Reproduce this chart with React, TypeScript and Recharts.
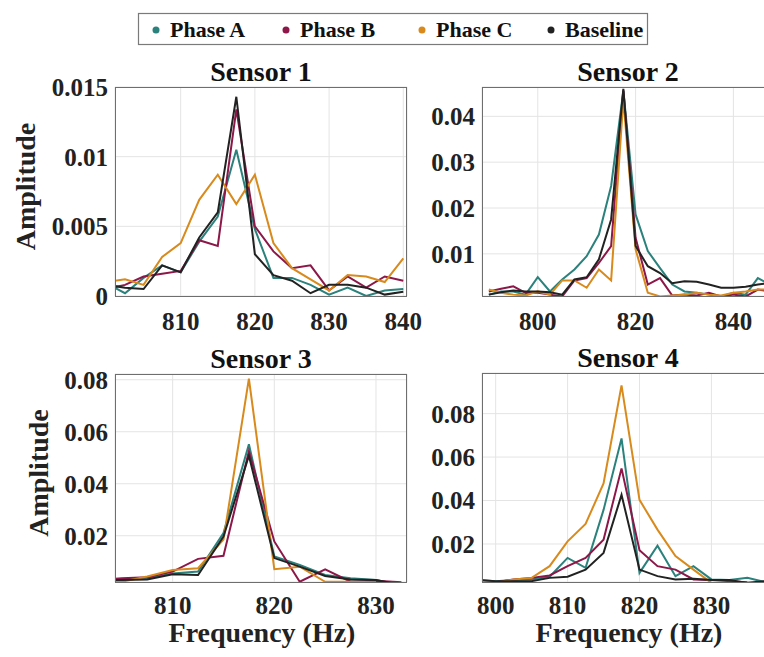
import { LineChart, Line, XAxis, YAxis, CartesianGrid } from "recharts";

const FONT = '"Liberation Serif", "Times New Roman", serif';

const COLOR_A = "#2b817c";
const COLOR_B = "#8c1748";
const COLOR_C = "#d88a1c";
const COLOR_BASE = "#222222";

const SERIES = [
  { key: "a", label: "Phase A", color: COLOR_A },
  { key: "b", label: "Phase B", color: COLOR_B },
  { key: "c", label: "Phase C", color: COLOR_C },
  { key: "base", label: "Baseline", color: COLOR_BASE },
];

// Sensor 1
const s1Freq = [800, 802.5, 805, 807.5, 810, 812.5, 815, 817.5, 820, 822.5, 825, 827.5, 830, 832.5, 835, 837.5, 840];
const s1A = [0.0009, 0.0002, 0.0013, 0.0022, 0.0017, 0.0039, 0.0057, 0.0105, 0.0048, 0.0013, 0.0013, 0.0008, 0.0001, 0.0006, 0.0, 0.0004, 0.0005];
const s1B = [0.0005, 0.0008, 0.0014, 0.0016, 0.0018, 0.004, 0.0036, 0.0134, 0.005, 0.0032, 0.002, 0.0022, 0.0004, 0.0014, 0.0006, 0.0014, 0.0011];
const s1C = [0.001, 0.0012, 0.0008, 0.0028, 0.0038, 0.0069, 0.0087, 0.0066, 0.0087, 0.0038, 0.002, 0.0012, 0.0004, 0.0015, 0.0014, 0.001, 0.0027];
const s1Base = [0.0008, 0.0006, 0.0005, 0.0022, 0.0017, 0.0042, 0.006, 0.0143, 0.003, 0.0015, 0.0011, 0.0002, 0.0008, 0.0008, 0.0006, 0.0001, 0.0003];

// Sensor 2
const s2Freq = [790, 792.5, 795, 797.5, 800, 802.5, 805, 807.5, 810, 812.5, 815, 817.5, 820, 822.5, 825, 827.5, 830, 832.5, 835, 837.5, 840, 842.5, 845, 847.5];
const s2A = [0.0011, 0.0018, 0.0018, 0.0011, 0.0049, 0.0018, 0.0044, 0.0066, 0.0095, 0.0142, 0.0248, 0.0456, 0.0186, 0.0106, 0.0069, 0.0033, 0.0018, 0.0015, 0.0011, 0.0007, 0.0015, 0.0011, 0.0047, 0.0033];
const s2B = [0.0018, 0.0024, 0.0029, 0.0015, 0.0015, 0.0011, 0.0007, 0.0042, 0.0047, 0.008, 0.0117, 0.0456, 0.0135, 0.0033, 0.0047, 0.0009, 0.0011, 0.0009, 0.0015, 0.0007, 0.0011, 0.0007, 0.0022, 0.0018];
const s2C = [0.0022, 0.0015, 0.0011, 0.0009, 0.0018, 0.0011, 0.0042, 0.0042, 0.0026, 0.0066, 0.0042, 0.0438, 0.011, 0.0015, 0.0007, 0.0009, 0.0011, 0.0015, 0.0011, 0.0009, 0.0015, 0.0018, 0.0022, 0.0022];
const s2Base = [0.0011, 0.0016, 0.002, 0.0018, 0.0018, 0.0016, 0.0011, 0.0044, 0.0049, 0.0088, 0.0175, 0.046, 0.0117, 0.0073, 0.0058, 0.0036, 0.004, 0.0039, 0.0033, 0.0026, 0.0026, 0.0028, 0.0033, 0.0036];

// Sensor 3
const s3Freq = [802.5, 805, 807.5, 810, 812.5, 815, 817.5, 820, 822.5, 825, 827.5, 830, 832.5];
const s3A = [0.003, 0.0032, 0.0036, 0.0055, 0.0062, 0.021, 0.0552, 0.012, 0.0088, 0.0049, 0.0036, 0.003, 0.001];
const s3B = [0.0032, 0.0036, 0.004, 0.0062, 0.0111, 0.0123, 0.0525, 0.0178, 0.0023, 0.0071, 0.0023, 0.0027, 0.0021];
const s3C = [0.0019, 0.0023, 0.0043, 0.0068, 0.0075, 0.0185, 0.0804, 0.0071, 0.0081, 0.0023, 0.0023, 0.0021, null];
const s3Base = [0.003, 0.003, 0.0032, 0.0052, 0.0049, 0.0197, 0.0508, 0.0114, 0.0081, 0.0045, 0.0032, 0.003, 0.001];

// Sensor 4
const s4Freq = [797.5, 800, 802.5, 805, 807.5, 810, 812.5, 815, 817.5, 820, 822.5, 825, 827.5, 830, 832.5, 835, 837.5];
const s4A = [0.0034, 0.0029, 0.0034, 0.0037, 0.0049, 0.0136, 0.009, 0.0357, 0.0686, 0.0067, 0.0192, 0.0052, 0.0098, 0.0037, 0.0034, 0.0044, 0.0024];
const s4B = [null, 0.0024, 0.0037, 0.0044, 0.0055, 0.0098, 0.0136, 0.022, 0.0548, 0.0171, 0.0098, 0.0082, 0.0037, 0.0034, 0.0029, 0.0024, null];
const s4C = [null, 0.0021, 0.0037, 0.0044, 0.0098, 0.0212, 0.0292, 0.0479, 0.093, 0.0403, 0.0266, 0.0144, 0.0082, 0.0021, 0.0018, null, null];
const s4Base = [0.0034, 0.0029, 0.0029, 0.0029, 0.0044, 0.0049, 0.0082, 0.0159, 0.0426, 0.0082, 0.0052, 0.0037, 0.004, 0.0034, 0.0034, 0.0021, 0.0029];

type Row = { f: number; a: number | null; b: number | null; c: number | null; base: number | null };

const buildRows = (
  f: number[],
  a: (number | null)[],
  b: (number | null)[],
  c: (number | null)[],
  base: (number | null)[]
): Row[] => f.map((v, i) => ({ f: v, a: a[i], b: b[i], c: c[i], base: base[i] }));

const PANELS = [
  {
    title: "Sensor 1",
    rows: buildRows(s1Freq, s1A, s1B, s1C, s1Base),
    xDomain: [801.15, 840.5],
    yDomain: [0, 0.015],
    xTicks: [810, 820, 830, 840],
    yTicks: [0, 0.005, 0.01, 0.015],
    left: 115,
    top: 87,
    height: 209,
    ylabelX: 26,
    xlabel: false,
    xTickMargin: 10,
  },
  {
    title: "Sensor 2",
    rows: buildRows(s2Freq, s2A, s2B, s2C, s2Base),
    xDomain: [788.6, 848.3],
    yDomain: [0.0008, 0.0464],
    xTicks: [800, 820, 840],
    yTicks: [0.01, 0.02, 0.03, 0.04],
    left: 482,
    top: 87,
    height: 209,
    ylabelX: 0,
    xlabel: false,
    xTickMargin: 10,
  },
  {
    title: "Sensor 3",
    rows: buildRows(s3Freq, s3A, s3B, s3C, s3Base),
    xDomain: [804.33, 833.05],
    yDomain: [0.0022, 0.0822],
    xTicks: [810, 820, 830],
    yTicks: [0.02, 0.04, 0.06, 0.08],
    left: 115,
    top: 374,
    height: 208,
    ylabelX: 39,
    xlabel: true,
    xTickMargin: 8,
  },
  {
    title: "Sensor 4",
    rows: buildRows(s4Freq, s4A, s4B, s4C, s4Base),
    xDomain: [798.1, 838.7],
    yDomain: [0.0025, 0.0987],
    xTicks: [800, 810, 820, 830],
    yTicks: [0.02, 0.04, 0.06, 0.08],
    left: 482,
    top: 373,
    height: 209,
    ylabelX: 0,
    xlabel: true,
    xTickMargin: 8,
  },
];

const PLOT_W = 292;
const Y_AXIS_W = 90;
const X_AXIS_H = 50;
const PAD_TOP = 20;
const PAD_RIGHT = 30;

const tickStyle = { fill: "#222", fontSize: 25, fontWeight: 700, fontFamily: FONT };

function Panel({ p }: { p: (typeof PANELS)[number] }) {
  return (
    <>
      <div style={{ position: "absolute", left: p.left - Y_AXIS_W, top: p.top - PAD_TOP }}>
        <LineChart
          width={Y_AXIS_W + PLOT_W + PAD_RIGHT}
          height={PAD_TOP + p.height + X_AXIS_H}
          data={p.rows}
          margin={{ top: PAD_TOP, right: PAD_RIGHT, bottom: 0, left: 0 }}
        >
          <CartesianGrid stroke="#e4e4e4" strokeWidth={1} />
          <XAxis
            dataKey="f"
            type="number"
            domain={p.xDomain}
            ticks={p.xTicks}
            allowDataOverflow
            height={X_AXIS_H}
            axisLine={false}
            tickLine={false}
            tickSize={6}
            tickMargin={p.xTickMargin}
            tick={tickStyle}
            interval={0}
          />
          <YAxis
            type="number"
            domain={p.yDomain}
            ticks={p.yTicks}
            allowDataOverflow
            width={Y_AXIS_W}
            axisLine={false}
            tickLine={false}
            tickSize={6}
            tickMargin={1}
            tick={tickStyle}
            tickFormatter={(v: number) => String(v)}
            interval={0}
          />
          {SERIES.map((s) => (
            <Line
              key={s.key}
              dataKey={s.key}
              stroke={s.color}
              strokeWidth={2}
              dot={false}
              isAnimationActive={false}
              connectNulls={false}
            />
          ))}
        </LineChart>
      </div>
      <div
        style={{
          position: "absolute",
          left: p.left,
          top: p.top,
          width: PLOT_W,
          height: p.height + 1,
          border: "1px solid #6e6e6e",
          boxSizing: "border-box",
          pointerEvents: "none",
        }}
      />
    </>
  );
}

export default function App() {
  return (
    <div
      style={{
        position: "fixed",
        left: 0,
        top: 0,
        width: 764,
        height: 657,
        overflow: "hidden",
        background: "#fff",
      }}
    >
      {PANELS.map((p) => (
        <Panel key={p.title} p={p} />
      ))}
      <svg
        width={764}
        height={657}
        style={{ position: "absolute", left: 0, top: 0, pointerEvents: "none" }}
        fontFamily={FONT}
        fontWeight={700}
      >
        {/* legend */}
        <rect x={138.5} y={13.5} width={509} height={31} fill="#fff" stroke="#7a7a7a" strokeWidth={1.2} />
        {SERIES.map((s, i) => {
          const dotX = [156, 286, 422, 551][i];
          return (
            <g key={s.key}>
              <circle cx={dotX} cy={30} r={3.5} fill={s.color} />
              <text x={dotX + 14} y={37} fontSize={22} fill="#111">
                {s.label}
              </text>
            </g>
          );
        })}
        {/* titles + labels */}
        {PANELS.map((p) => (
          <g key={p.title}>
            <text x={p.left + PLOT_W / 2} y={p.top - 6} fontSize={28} textAnchor="middle" fill="#111">
              {p.title}
            </text>
            {p.ylabelX > 0 && (
              <text
                x={0}
                y={0}
                fontSize={28}
                textAnchor="middle"
                fill="#222"
                transform={`translate(${p.ylabelX + 9}, ${p.top + p.height / 2 - 5}) rotate(-90)`}
              >
                Amplitude
              </text>
            )}
            {p.xlabel && (
              <text x={p.left + PLOT_W / 2 + 1} y={642} fontSize={28} textAnchor="middle" fill="#222">
                Frequency (Hz)
              </text>
            )}
          </g>
        ))}
      </svg>
    </div>
  );
}
